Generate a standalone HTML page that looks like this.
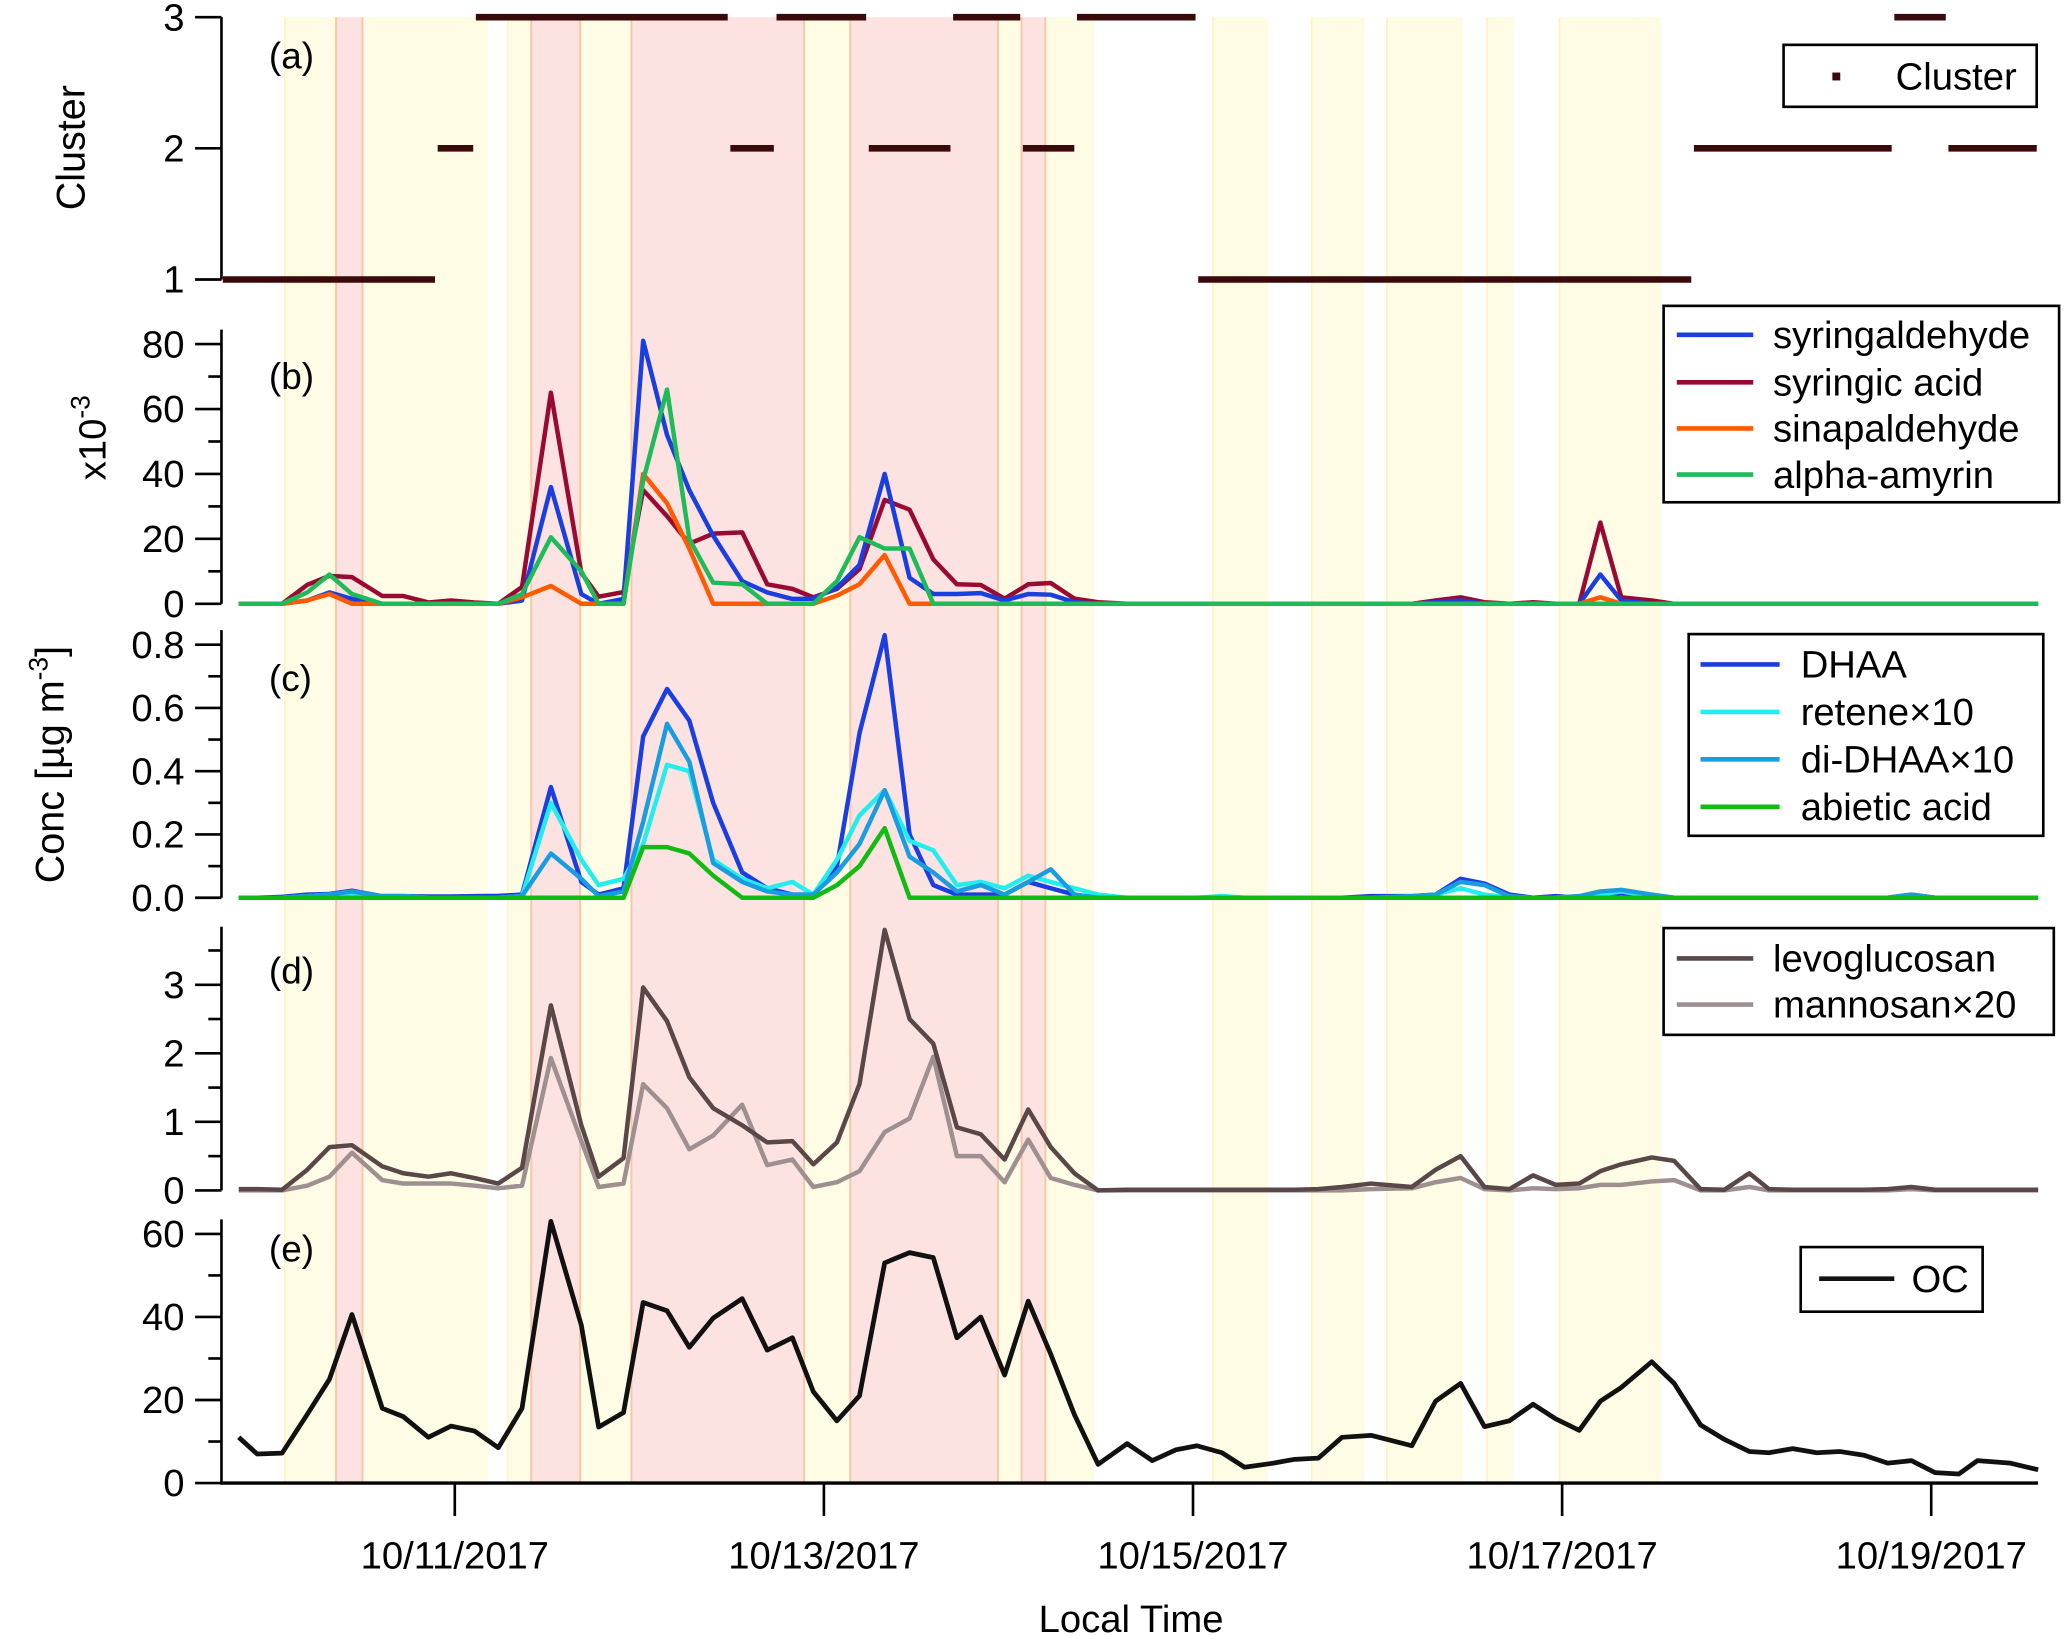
<!DOCTYPE html>
<html><head><meta charset="utf-8"><style>
html,body{margin:0;padding:0;background:#fff;}
svg{display:block;font-family:"Liberation Sans",sans-serif;}
</style></head><body>
<svg id="chart" xmlns="http://www.w3.org/2000/svg" width="2067" height="1636" viewBox="0 0 1568 1241">
<g id="bands"></g>
<g id="marks"></g>
<g id="axes"></g>
<g id="legends"></g>
</svg>
<script>
// ---- data (times in days since 10/11/2017 00:00) ----
const times = [-1.171,-1.071,-0.936,-0.8,-0.679,-0.557,-0.393,-0.279,-0.143,-0.021,0.107,0.236,0.364,0.521,0.686,0.779,0.914,1.021,1.15,1.271,1.4,1.557,1.693,1.829,1.943,2.071,2.193,2.329,2.464,2.593,2.721,2.85,2.979,3.107,3.229,3.357,3.486,3.643,3.779,3.907,4.021,4.157,4.279,4.436,4.55,4.679,4.807,4.964,5.186,5.314,5.45,5.579,5.714,5.843,5.964,6.093,6.207,6.321,6.486,6.607,6.75,6.879,7.014,7.121,7.25,7.379,7.507,7.636,7.764,7.893,8.021,8.15,8.25,8.429,8.579];
const dateTicks = [0,2,4,6,8];
const dateLabels = ["10/11/2017","10/13/2017","10/15/2017","10/17/2017","10/19/2017"];
const yellowBands = [[-0.921,-0.643],[-0.5,0.179],[0.286,0.414],[0.679,0.95],[1.893,2.143],[2.943,3.071],[3.2,3.464],[4.107,4.407],[4.643,4.929],[5.05,5.464],[5.593,5.736],[5.986,6.536]];
const pinkBands = [[-0.643,-0.5],[0.414,0.679],[0.957,1.893],[2.143,2.943],[3.071,3.2]];
const clusterStart = [-1.264,-0.1,0.107,1.486,1.736,2.236,2.693,3.071,3.364,4.021,6.707,7.793,8.086];
const clusterEnd   = [-0.1,0.107,1.486,1.736,2.236,2.693,3.071,3.364,4.021,6.707,7.793,8.086,8.579];
const clusterValue = [1,2,3,2,3,2,3,2,3,1,2,3,2];
const syringaldehyde = [0,0,0,1,3.5,1.5,0,0,0,0,0,0,1,36,3,0,1.5,81,52,35,21,7,3.5,1.5,1.5,5,12,40,8,3,3,3.3,1,3,2.8,0.5,0,0,0,0,0,0,0,0,0,0,0,0,0,0.5,1,0,0,0,0,0,9,1,0,0,0,0,0,0,0,0,0,0,0,0,0,0,0,0,0];
const syringicAcid = [0,0,0,5.8,8.6,8.2,2.4,2.4,0.4,1,0.4,0,5.2,65,9.5,2.2,3.6,35,27,18.5,21.6,22,6,4.6,2,4.6,10.7,32,29,13.7,6,5.8,1.6,6,6.4,1.6,0.5,0,0,0,0,0,0,0,0,0,0,0,0,1,2,0.5,0,0.5,0,0,25,2,1,0,0,0,0,0,0,0,0,0,0,0,0,0,0,0,0];
const sinapaldehyde = [0,0,0,1,3,0,0,0,0,0,0,0,2,5.5,0,0,0,40,31,17,0,0,0,0,0,2.5,6,15,0,0,0,0,0,0,0,0,0,0,0,0,0,0,0,0,0,0,0,0,0,0,0,0,0,0,0,0,2,0,0,0,0,0,0,0,0,0,0,0,0,0,0,0,0,0,0];
const alphaAmyrin = [0,0,0,3.5,9,3,0,0,0,0,0,0,3,20.5,10,0,0,38,66,20,6.5,6,0,0,0,7,20.5,17,17,0,0,0,0,0,0,0,0,0,0,0,0,0,0,0,0,0,0,0,0,0,0,0,0,0,0,0,0,0,0,0,0,0,0,0,0,0,0,0,0,0,0,0,0,0,0];
const dhaa = [0,0,0.003,0.01,0.012,0.022,0.005,0.005,0.004,0.004,0.005,0.006,0.01,0.35,0.05,0.01,0.03,0.51,0.66,0.56,0.3,0.08,0.03,0.01,0.01,0.1,0.52,0.83,0.2,0.04,0.01,0.01,0.01,0.05,0.03,0.01,0,0,0,0,0,0,0,0,0,0,0,0.005,0.005,0.01,0.06,0.045,0.01,0,0.005,0,0.005,0.015,0.005,0,0,0,0,0,0,0,0,0,0,0.01,0,0,0,0,0];
const retene = [0,0,0,0.005,0.01,0.015,0.005,0.005,0,0,0,0,0.005,0.3,0.12,0.04,0.06,0.17,0.42,0.4,0.12,0.06,0.03,0.05,0.01,0.12,0.26,0.34,0.18,0.15,0.04,0.05,0.03,0.07,0.05,0.03,0.01,0,0,0,0,0.005,0,0,0,0,0,0,0,0.01,0.03,0.01,0,0,0,0.005,0.01,0.02,0.005,0,0,0,0,0,0,0,0,0,0,0,0,0,0,0,0];
const diDhaa = [0,0,0,0.005,0.01,0.02,0.005,0.005,0,0,0,0,0.005,0.14,0.06,0.005,0.02,0.24,0.55,0.43,0.11,0.05,0.02,0.01,0.01,0.08,0.17,0.34,0.13,0.08,0.02,0.04,0.01,0.05,0.09,0.01,0,0,0,0,0,0,0,0,0,0,0,0,0.005,0.01,0.05,0.04,0.005,0,0,0.005,0.02,0.025,0.01,0,0,0,0,0,0,0,0,0,0,0.01,0,0,0,0,0];
const abieticAcid = [0,0,0,0,0,0,0,0,0,0,0,0,0,0,0,0,0,0.16,0.16,0.14,0.07,0,0,0,0,0.04,0.1,0.22,0,0,0,0,0,0,0,0,0,0,0,0,0,0,0,0,0,0,0,0,0,0,0,0,0,0,0,0,0,0,0,0,0,0,0,0,0,0,0,0,0,0,0,0,0,0,0];
const levoglucosan = [0.02,0.02,0.01,0.3,0.63,0.66,0.35,0.25,0.2,0.25,0.18,0.1,0.33,2.7,0.95,0.2,0.47,2.96,2.47,1.65,1.2,0.95,0.7,0.72,0.38,0.7,1.55,3.8,2.5,2.14,0.92,0.82,0.45,1.18,0.63,0.25,0,0.01,0.01,0.01,0.01,0.01,0.01,0.01,0.01,0.02,0.05,0.1,0.05,0.3,0.5,0.05,0.02,0.22,0.08,0.1,0.28,0.38,0.48,0.43,0.02,0.01,0.25,0.02,0.01,0.01,0.01,0.01,0.02,0.05,0.01,0.01,0.01,0.01,0.01];
const mannosan = [0,0,0,0.07,0.2,0.55,0.15,0.1,0.1,0.1,0.07,0.03,0.07,1.93,0.72,0.05,0.1,1.55,1.2,0.6,0.8,1.25,0.37,0.45,0.05,0.12,0.28,0.85,1.05,1.95,0.5,0.5,0.12,0.74,0.18,0.08,0,0,0,0,0,0,0,0,0,0,0,0.02,0.03,0.12,0.18,0.02,0,0.03,0.02,0.03,0.08,0.08,0.13,0.15,0,0,0.05,0,0,0,0,0,0,0.02,0,0,0,0,0];
const oc = [11,7,7.2,16.5,25,40.6,18,16,11,13.7,12.5,8.5,18,63,38,13.5,17,43.5,41.5,32.7,39.7,44.4,32,35,22,15,21,53,55.5,54.3,35,40,26,43.8,31,16.5,4.5,9.5,5.4,8,9,7.3,3.8,4.8,5.7,6,11,11.5,9,19.7,24,13.6,15,19,15.5,12.7,19.7,23,29.2,24,14,10.5,7.6,7.3,8.3,7.3,7.6,6.7,4.8,5.4,2.5,2.2,5.4,4.8,3.2];
const ticksB = [0,20,40,60,80];
const ticksC = [0,0.2,0.4,0.6,0.8];
const ticksCLabels = ["0.0","0.2","0.4","0.6","0.8"];
const ticksD = [0,1,2,3];
const ticksE = [0,20,40,60];
const ticksA = [1,2,3];

// ---- layout ----
const NS = "http://www.w3.org/2000/svg";
const L = 168, R = 1546;
function X(d){ return 345 + d*140; }
const panels = {
  a:{y0:212, y1:13, v0:1, v1:3, top:13},
  b:{y0:458, y1:261, v0:0, v1:80, top:250},
  c:{y0:681, y1:489, v0:0, v1:0.8, top:478},
  d:{y0:903, y1:747, v0:0, v1:3, top:703},
  e:{y0:1125, y1:936, v0:0, v1:60, top:925}
};
function Y(p, v){ const q = panels[p]; return q.y0 + (v - q.v0)/(q.v1 - q.v0)*(q.y1 - q.y0); }
function el(tag, attrs, parent){ const e = document.createElementNS(NS, tag); for (const k in attrs) e.setAttribute(k, attrs[k]); parent.appendChild(e); return e; }

const bandsG = document.getElementById('bands');
const marksG = document.getElementById('marks');
const axesG = document.getElementById('axes');
const legG = document.getElementById('legends');

yellowBands.forEach(b => {
  const r = el('rect', {x:X(b[0]), y:13, width:X(b[1])-X(b[0]), height:1112, fill:'#fffbe0', opacity:0.85}, bandsG);
  
  
  const e1 = el('line', {x1:X(b[0]), x2:X(b[0]), y1:13, y2:1125, stroke:'#fff3c0', 'stroke-width':1.2}, bandsG);
  
  
});
pinkBands.forEach(b => {
  const r = el('rect', {x:X(b[0]), y:13, width:X(b[1])-X(b[0]), height:1112, fill:'#fde2e2'}, bandsG);
  
  
  [b[0], b[1]].forEach(t => {
    const e1 = el('line', {x1:X(t), x2:X(t), y1:13, y2:1125, stroke:'#f8c6a8', 'stroke-width':1.5}, bandsG);
    
    
  });
});

clusterValue.forEach((v, i) => {
  const s = el('line', {x1:X(clusterStart[i])+1, x2:X(clusterEnd[i])-1, y1:Y('a', v), y2:Y('a', v), stroke:'#3a0a0a', 'stroke-width':5}, marksG);
  
  
});

function series(p, vals, color, name, w){
  const pts = vals.map((v, i) => X(times[i]).toFixed(1) + ',' + Y(p, v).toFixed(1)).join(' ');
  const pl = el('polyline', {points:pts, fill:'none', stroke:color, 'stroke-width':w||3.4, 'stroke-linejoin':'round'}, marksG);
  
  
}
series('b', syringicAcid, '#990a33', 'syringic-acid-line');
series('b', syringaldehyde, '#1a3ee0', 'syringaldehyde-line');
series('b', sinapaldehyde, '#ff5a00', 'sinapaldehyde-line');
series('b', alphaAmyrin, '#1fbb5a', 'alpha-amyrin-line');
series('c', dhaa, '#1a3ee0', 'dhaa-line');
series('c', retene, '#22eeee', 'retene-line');
series('c', diDhaa, '#1a9de0', 'di-dhaa-line');
series('c', abieticAcid, '#11bb11', 'abietic-acid-line');
series('d', mannosan, '#9e9090', 'mannosan-line');
series('d', levoglucosan, '#5a4848', 'levoglucosan-line');
series('e', oc, '#111111', 'oc-line', 3.6);

function yAxis(p, ticks, labels, minor){
  const q = panels[p];
  const a = el('line', {x1:L, x2:L, y1:q.top, y2:q.y0, stroke:'#000', 'stroke-width':2}, axesG);
  
  
  ticks.forEach((t, i) => {
    const tk = el('line', {x1:L-20, x2:L, y1:Y(p, t), y2:Y(p, t), stroke:'#000', 'stroke-width':2}, axesG);
    
    
    const tx = el('text', {x:L-28, y:Y(p, t)+10, 'text-anchor':'end', 'font-size':29}, axesG);
    tx.textContent = labels ? labels[i] : String(t);
    
    
  });
  if (minor) minor.forEach(t => {
    const tk = el('line', {x1:L-10, x2:L, y1:Y(p, t), y2:Y(p, t), stroke:'#000', 'stroke-width':2}, axesG);
    
    
  });
}
yAxis('a', ticksA);
yAxis('b', ticksB, null, [10,30,50,70]);
yAxis('c', ticksC, ticksCLabels, [0.1,0.3,0.5,0.7]);
yAxis('d', ticksD, null, [0.5,1.5,2.5,3.5]);
yAxis('e', ticksE, null, [10,30,50]);

const xa = el('line', {x1:L-1, x2:R, y1:1125, y2:1125, stroke:'#000', 'stroke-width':2.5}, axesG);


dateTicks.forEach((d, i) => {
  const tk = el('line', {x1:X(d), x2:X(d), y1:1125, y2:1150, stroke:'#000', 'stroke-width':2}, axesG);
  
  
  const tx = el('text', {x:X(d), y:1190, 'text-anchor':'middle', 'font-size':29}, axesG);
  tx.textContent = dateLabels[i];
  
  
});

function txt(x, y, s, size, name, extra){
  const t = el('text', Object.assign({x:x, y:y, 'font-size':size}, extra||{}), axesG);
  t.textContent = s;
  
  
  return t;
}
txt(858, 1238, 'Local Time', 29, 'x-axis-title', {'text-anchor':'middle'});
txt(64, 112, 'Cluster', 30, 'cluster-axis-title', {'text-anchor':'middle', transform:'rotate(-90 64 112)'});
const sc = txt(80, 332, 'x10', 29, 'scale-factor-label', {'text-anchor':'middle', transform:'rotate(-90 80 332)'});
const sup = el('tspan', {dy:-12, 'font-size':20}, sc); sup.textContent = '-3';
const ct = txt(48, 580, 'Conc [µg m', 30, 'concentration-axis-title', {'text-anchor':'middle', transform:'rotate(-90 48 580)'});
const s2 = el('tspan', {dy:-12, 'font-size':20}, ct); s2.textContent = '-3';
const s3 = el('tspan', {dy:12}, ct); s3.textContent = ']';
[['(a)',42],['(b)',285],['(c)',514],['(d)',736],['(e)',947]].forEach(p => txt(204, p[1]+10, p[0], 28, 'panel-label'));

function box(x, y, w, h, name){
  const r = el('rect', {x:x, y:y, width:w, height:h, fill:'#fff', stroke:'#000', 'stroke-width':2}, legG);
  
  
}
function entry(x1, x2, tx, y, color, label){
  const l = el('line', {x1:x1, x2:x2, y1:y, y2:y, stroke:color, 'stroke-width':3.5}, legG);
  
  
  const t = el('text', {x:tx, y:y+10, 'font-size':29}, legG);
  t.textContent = label;
  
  
}
box(1353, 34, 192, 47, 'cluster-legend');
const sq = el('rect', {x:1390, y:55, width:6, height:6, fill:'#3a0a0a'}, legG);


const ctx = el('text', {x:1438, y:68, 'font-size':29}, legG); ctx.textContent = 'Cluster';



box(1262, 232, 300, 149, 'panel-b-legend');
entry(1272, 1330, 1345, 254, '#1a3ee0', 'syringaldehyde');
entry(1272, 1330, 1345, 290, '#990a33', 'syringic acid');
entry(1272, 1330, 1345, 325, '#ff5a00', 'sinapaldehyde');
entry(1272, 1330, 1345, 360, '#1fbb5a', 'alpha-amyrin');

box(1281, 481, 269, 153, 'panel-c-legend');
entry(1290, 1350, 1366, 504, '#1a3ee0', 'DHAA');
entry(1290, 1350, 1366, 540, '#22eeee', 'retene×10');
entry(1290, 1350, 1366, 576, '#1a9de0', 'di-DHAA×10');
entry(1290, 1350, 1366, 612, '#11bb11', 'abietic acid');

box(1262, 704, 296, 81, 'panel-d-legend');
entry(1272, 1330, 1345, 727, '#5a4848', 'levoglucosan');
entry(1272, 1330, 1345, 762, '#9e9090', 'mannosan×20');

box(1366, 946, 138, 49, 'panel-e-legend');
entry(1380, 1437, 1450, 970, '#111111', 'OC');
</script>
</body></html>
